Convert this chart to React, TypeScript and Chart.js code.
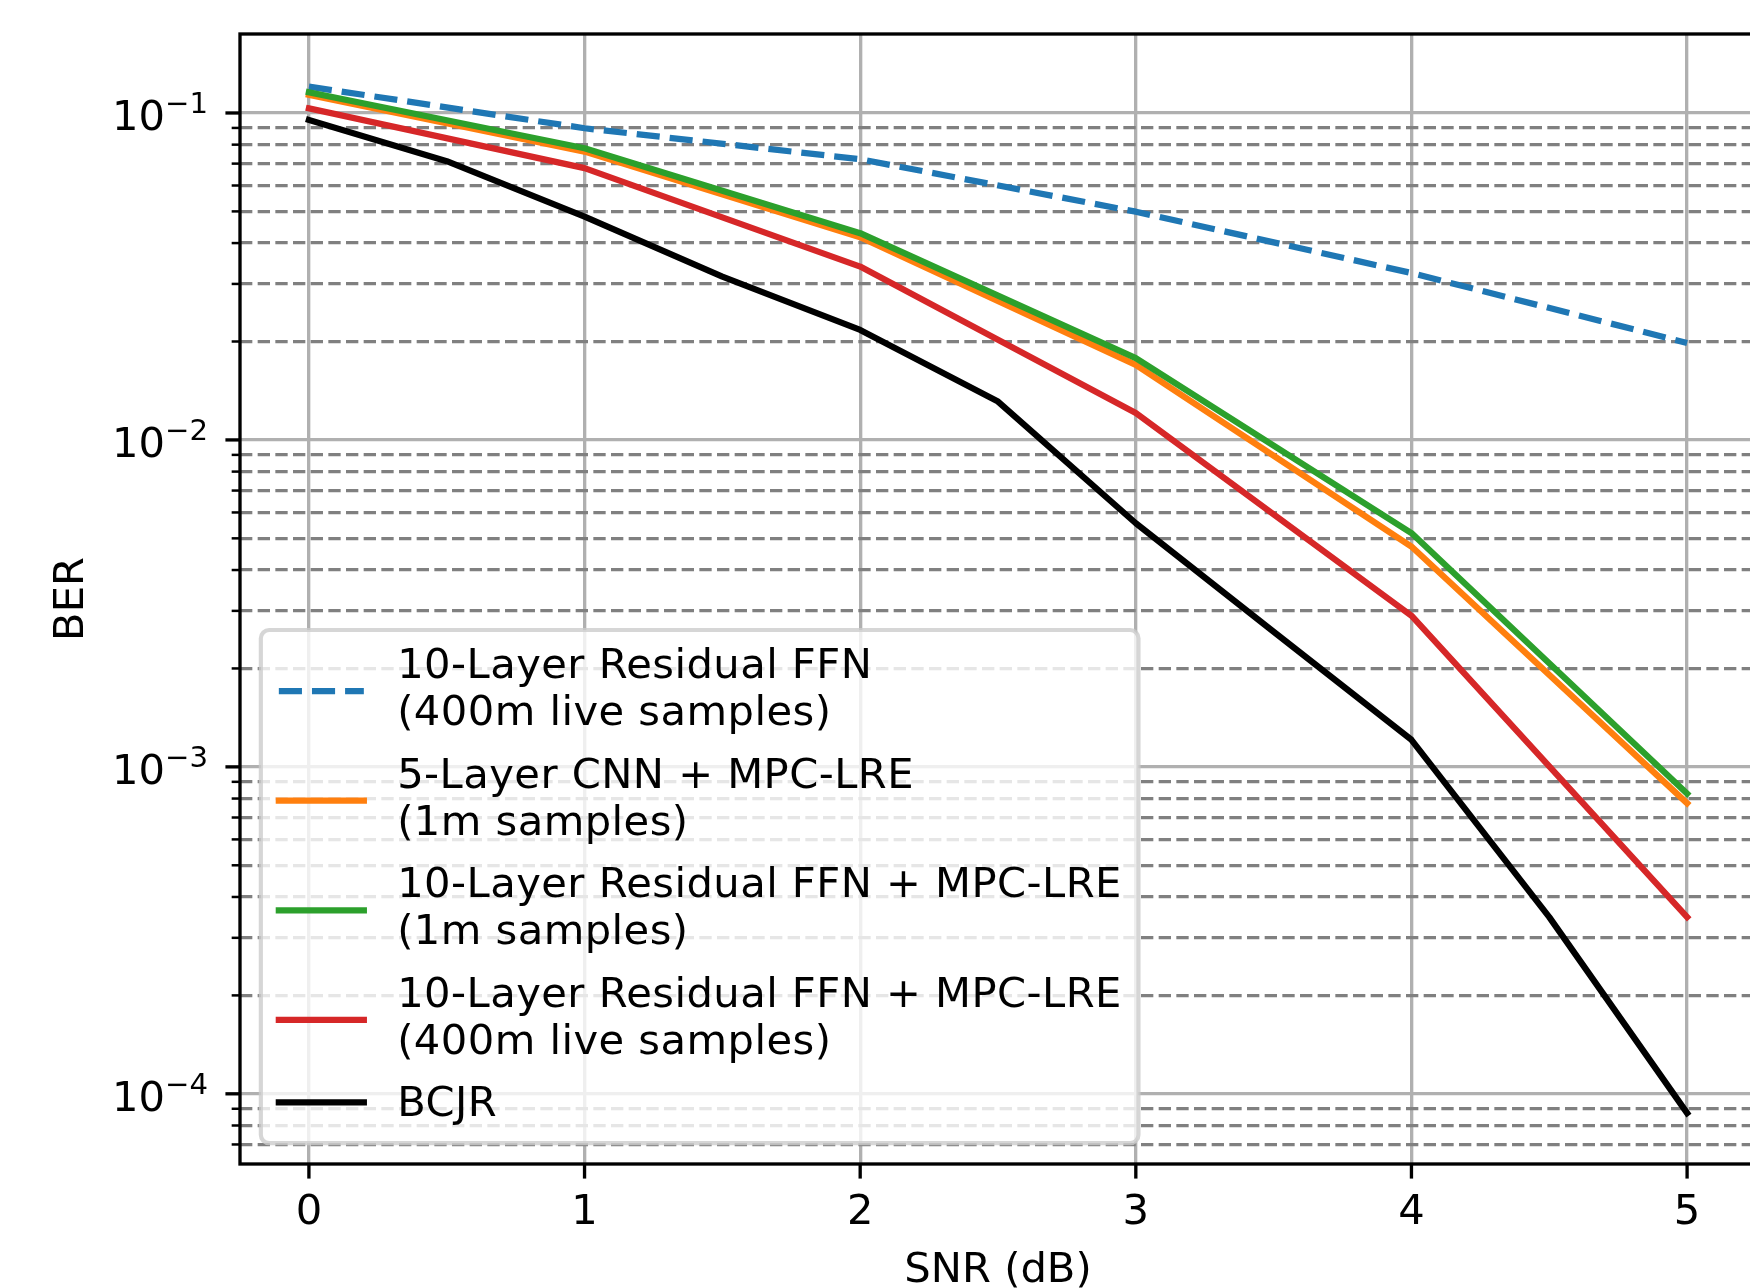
import React, { useEffect, useRef } from 'react';
import { Chart, registerables } from 'chart.js';

Chart.register(...registerables);

// ---------------- data ----------------
const SNR_DB = [0, 1, 2, 3, 4, 5];
const SNR_DB_HALF = [0, 0.5, 1, 1.5, 2, 2.5, 3, 3.5, 4, 4.5, 5];

const BER_RESFFN_400M = [0.1204, 0.0898, 0.0722, 0.0499, 0.0324, 0.0198];
const BER_CNN_MPC_1M = [0.1137, 0.0762, 0.0417, 0.01696, 0.00472, 0.000774];
const BER_RESFFN_MPC_1M = [0.1157, 0.078, 0.0429, 0.01778, 0.00519, 0.000828];
const BER_RESFFN_MPC_400M = [0.1033, 0.0678, 0.0339, 0.01208, 0.0029, 0.000347];
const BER_BCJR = [0.0952, 0.0712, 0.0482, 0.0316, 0.0217, 0.0131, 0.00556, 0.00259, 0.00121, 0.000347, 0.0000873];

const LEGEND_LABELS = [
  ['10-Layer Residual FFN', '(400m live samples)'],
  ['5-Layer CNN + MPC-LRE', '(1m samples)'],
  ['10-Layer Residual FFN + MPC-LRE', '(1m samples)'],
  ['10-Layer Residual FFN + MPC-LRE', '(400m live samples)'],
  ['BCJR'],
];

const X_TICKS = [0, 1, 2, 3, 4, 5];
const X_TICK_LABELS = ['0', '1', '2', '3', '4', '5'];
const Y_MAJOR_TICKS = [1e-4, 1e-3, 1e-2, 1e-1];
const Y_LABEL_BASE = '10';
const Y_LABEL_EXPONENTS = ['−4', '−3', '−2', '−1'];
const Y_MINOR_MULTIPLIERS = [2, 3, 4, 5, 6, 7, 8, 9];
const Y_DECADES = [1e-5, 1e-4, 1e-3, 1e-2, 1e-1];
const X_LIMITS = [-0.25, 5.25];
const Y_LIMITS = [6.1e-5, 0.1744];

const AXIS_X_TITLE = 'SNR (dB)';
const AXIS_Y_TITLE = 'BER';

// ---------------- styling ----------------
const FONT = 'DejaVu Sans';
const PT = 300 / 72;
const FS = 10 * PT; // 41.67px
const COLORS = ['#1f77b4', '#ff7f0e', '#2ca02c', '#d62728', '#000000'];
const DASHED = [true, false, false, false, false];
const LINE_DASH = [3.7 * 1.5 * PT, 1.6 * 1.5 * PT];
const LW = 1.5 * PT;
const GRID_LW = 0.8 * PT;
const MINOR_DASH = [3.7 * 0.8 * PT, 1.6 * 0.8 * PT];

const CANVAS_W = 1760;
const CANVAS_H = 1288;
const PLOT_LEFT = 240;
const PLOT_TOP = 34;
const PLOT_RIGHT = 1756;
const PLOT_BOTTOM = 1164;

const isMajorVal = (v: number) => {
  const l = Math.log10(v);
  return Math.abs(l - Math.round(l)) < 1e-6;
};

const yTickValues = (): number[] => {
  const vals: number[] = [];
  Y_DECADES.forEach((d) => {
    Y_MINOR_MULTIPLIERS.forEach((m) => vals.push(Number((m * d).toPrecision(6))));
  });
  Y_MAJOR_TICKS.forEach((v) => vals.push(v));
  return vals.filter((v) => v >= Y_LIMITS[0] && v <= Y_LIMITS[1]).sort((a, b) => a - b);
};

const framePlugin = {
  id: 'mplFrame',
  afterDatasetsDraw(chart: any) {
    const { ctx, chartArea: a, scales } = chart;
    const xs = scales.x;
    const ys = scales.y;
    ctx.save();
    // tick marks
    ctx.strokeStyle = '#000';
    ctx.lineCap = 'butt';
    ys.ticks.forEach((t: any) => {
      const py = ys.getPixelForValue(t.value);
      const major = isMajorVal(t.value);
      ctx.lineWidth = major ? 0.8 * PT : 0.6 * PT;
      const len = major ? 3.5 * PT : 2 * PT;
      ctx.beginPath();
      ctx.moveTo(a.left, py);
      ctx.lineTo(a.left - len, py);
      ctx.stroke();
    });
    xs.ticks.forEach((t: any) => {
      const px = xs.getPixelForValue(t.value);
      ctx.lineWidth = 0.8 * PT;
      ctx.beginPath();
      ctx.moveTo(px, a.bottom);
      ctx.lineTo(px, a.bottom + 3.5 * PT);
      ctx.stroke();
    });
    // y tick labels (10 with superscript exponent)
    ctx.fillStyle = '#000';
    ctx.textBaseline = 'alphabetic';
    ctx.textAlign = 'left';
    Y_MAJOR_TICKS.forEach((v, i) => {
      const py = ys.getPixelForValue(v);
      const supFont = `${FS * 0.7}px "${FONT}"`;
      const baseFont = `${FS}px "${FONT}"`;
      ctx.font = supFont;
      const ew = ctx.measureText(Y_LABEL_EXPONENTS[i]).width;
      ctx.font = baseFont;
      const bw = ctx.measureText(Y_LABEL_BASE).width;
      const right = a.left - 32;
      const x0 = right - ew - bw;
      ctx.fillText(Y_LABEL_BASE, x0, py + 17);
      ctx.font = supFont;
      ctx.fillText(Y_LABEL_EXPONENTS[i], x0 + bw, py + 0.3);
    });
    // spines
    ctx.lineWidth = 0.8 * PT;
    ctx.lineJoin = 'miter';
    ctx.strokeRect(a.left, a.top, a.right - a.left, a.bottom - a.top);

    // legend
    ctx.font = `${FS}px "${FONT}"`;
    if ('letterSpacing' in ctx) (ctx as any).letterSpacing = '0.45px';
    const lineGap = 47;
    const entryGap = 62.55;
    let maxW = 0;
    LEGEND_LABELS.forEach((lines) => lines.forEach((s) => { maxW = Math.max(maxW, ctx.measureText(s).width); }));
    let total = 48.2 + 26.8;
    LEGEND_LABELS.forEach((lines, i) => {
      total += (lines.length - 1) * lineGap;
      if (i > 0) total += entryGap;
    });
    const boxLeft = a.left + 0.5 * FS;
    const boxBottom = a.bottom - 0.5 * FS;
    const boxTop = boxBottom - total;
    const textX = boxLeft + 0.4 * FS + 2.8 * FS + 3;
    const boxRight = textX + maxW + 0.4 * FS;
    const r = 0.2 * FS;
    ctx.beginPath();
    ctx.moveTo(boxLeft + r, boxTop);
    ctx.lineTo(boxRight - r, boxTop);
    ctx.arcTo(boxRight, boxTop, boxRight, boxTop + r, r);
    ctx.lineTo(boxRight, boxBottom - r);
    ctx.arcTo(boxRight, boxBottom, boxRight - r, boxBottom, r);
    ctx.lineTo(boxLeft + r, boxBottom);
    ctx.arcTo(boxLeft, boxBottom, boxLeft, boxBottom - r, r);
    ctx.lineTo(boxLeft, boxTop + r);
    ctx.arcTo(boxLeft, boxTop, boxLeft + r, boxTop, r);
    ctx.closePath();
    ctx.fillStyle = 'rgba(255,255,255,0.8)';
    ctx.fill();
    ctx.strokeStyle = 'rgba(204,204,204,0.8)';
    ctx.lineWidth = 1.0 * PT;
    ctx.stroke();

    let y = boxTop + 48.2;
    LEGEND_LABELS.forEach((lines, i) => {
      const b1 = y;
      const bn = y + (lines.length - 1) * lineGap;
      const hy = lines.length > 1 ? (b1 + bn) / 2 - 10.5 : b1 - 14;
      ctx.strokeStyle = COLORS[i];
      ctx.lineWidth = LW;
      if (DASHED[i]) {
        ctx.setLineDash(LINE_DASH);
        ctx.lineCap = 'butt';
      } else {
        ctx.setLineDash([]);
        ctx.lineCap = 'square';
      }
      ctx.beginPath();
      ctx.moveTo(boxLeft + 18, hy);
      ctx.lineTo(boxLeft + 103, hy);
      ctx.stroke();
      ctx.setLineDash([]);
      ctx.fillStyle = '#000';
      ctx.textAlign = 'left';
      ctx.textBaseline = 'alphabetic';
      lines.forEach((s, k) => ctx.fillText(s, textX, b1 + k * lineGap));
      y = bn + entryGap;
    });
    ctx.restore();
  },
};

export default function App() {
  const ref = useRef<HTMLCanvasElement | null>(null);

  useEffect(() => {
    if (!ref.current) return;
    Chart.defaults.font.family = FONT;
    const series = [BER_RESFFN_400M, BER_CNN_MPC_1M, BER_RESFFN_MPC_1M, BER_RESFFN_MPC_400M, BER_BCJR];
    const xsFor = [SNR_DB, SNR_DB, SNR_DB, SNR_DB, SNR_DB_HALF];
    const datasets = series.map((vals, i) => ({
      label: LEGEND_LABELS[i].join(' '),
      data: vals.map((v, k) => ({ x: xsFor[i][k], y: v })),
      borderColor: COLORS[i],
      backgroundColor: COLORS[i],
      borderWidth: LW,
      borderDash: DASHED[i] ? LINE_DASH : [],
      borderCapStyle: DASHED[i] ? 'butt' : 'square',
      borderJoinStyle: 'round',
      pointRadius: 0,
      tension: 0,
      fill: false,
      order: series.length - 1 - i,
    }));

    const yTicks = yTickValues();

    const chart = new Chart(ref.current, {
      type: 'line',
      data: { datasets } as any,
      options: {
        animation: false,
        responsive: false,
        devicePixelRatio: 1,
        events: [],
        layout: { padding: { top: PLOT_TOP, right: CANVAS_W - PLOT_RIGHT, left: 0, bottom: 0 } },
        plugins: { legend: { display: false }, tooltip: { enabled: false }, title: { display: false } },
        scales: {
          x: {
            type: 'linear',
            bounds: 'data',
            min: X_LIMITS[0],
            max: X_LIMITS[1],
            afterBuildTicks: (s: any) => { s.ticks = X_TICKS.map((v) => ({ value: v })); },
            afterFit: (s: any) => { s.height = CANVAS_H - PLOT_BOTTOM; },
            ticks: {
              callback: (v: any) => { const i = X_TICKS.indexOf(Number(v)); return i >= 0 ? X_TICK_LABELS[i] : ''; },
              font: { size: FS, family: FONT },
              color: '#000',
              padding: 23.8,
              maxRotation: 0,
              autoSkip: false,
            },
            grid: { color: '#b0b0b0', lineWidth: GRID_LW, drawTicks: false },
            border: { display: false },
            title: {
              display: true,
              text: AXIS_X_TITLE,
              color: '#000',
              font: { size: FS, family: FONT, lineHeight: 0.8 },
              padding: { top: 0, bottom: 0 },
            },
          },
          y: {
            type: 'logarithmic',
            bounds: 'data',
            min: Y_LIMITS[0],
            max: Y_LIMITS[1],
            afterBuildTicks: (s: any) => { s.ticks = yTicks.map((v) => ({ value: v })); },
            afterFit: (s: any) => { s.width = PLOT_LEFT; },
            ticks: { display: false, autoSkip: false },
            grid: {
              color: (c: any) => (c.tick && isMajorVal(c.tick.value) ? '#b0b0b0' : '#808080'),
              lineWidth: GRID_LW,
              drawTicks: false,
            },
            border: {
              display: false,
              dash: (c: any) => (c.tick && isMajorVal(c.tick.value) ? [] : MINOR_DASH),
            },
            title: {
              display: true,
              text: AXIS_Y_TITLE,
              color: '#000',
              font: { size: FS, family: FONT, lineHeight: 0.8 },
              padding: { top: 55.3, bottom: 0 },
            },
          },
        },
      } as any,
      plugins: [framePlugin],
    });
    return () => chart.destroy();
  }, []);

  return (
    <div style={{ position: 'absolute', left: 0, top: 0, width: 1750, height: CANVAS_H, overflow: 'hidden', background: '#fff' }}>
      <canvas ref={ref} width={CANVAS_W} height={CANVAS_H} style={{ display: 'block', width: CANVAS_W, height: CANVAS_H }} />
    </div>
  );
}
